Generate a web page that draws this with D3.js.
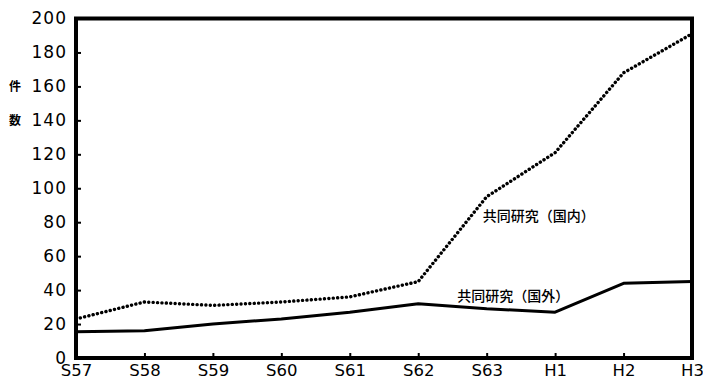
<!DOCTYPE html>
<html><head><meta charset="utf-8">
<script src="https://cdn.jsdelivr.net/npm/d3@7"></script>
<style>body{margin:0;background:#fff}svg{display:block}</style>
</head><body>
<script>
const categories = ["S57","S58","S59","S60","S61","S62","S63","H1","H2","H3"];
const domestic = [23, 33, 31, 33, 36, 45, 95, 121, 168, 191];
const overseas = [15.5, 16, 20, 23, 27, 32, 29, 27, 44, 45];
const yTicks = [0,20,40,60,80,100,120,140,160,180,200];
const seriesLabels = ["共同研究（国内）","共同研究（国外）"];
const yTitle = ["件","数"];

const W=703,H=379;
const m={left:76,right:11,top:18.5,bottom:21};
const svg=d3.select("body").append("svg").attr("width",W).attr("height",H);
const x=d3.scalePoint().domain(categories).range([m.left,W-m.right]);
const y=d3.scaleLinear().domain([0,200]).range([H-m.bottom,m.top]);

const yAx=svg.append("g").attr("transform",`translate(${m.left},0)`)
  .call(d3.axisLeft(y).tickValues(yTicks).tickSize(-5).tickPadding(8));
yAx.select(".domain").remove();
yAx.selectAll("line").attr("stroke","#000").attr("stroke-width",2);
yAx.selectAll("text").attr("font-family","DejaVu Sans").attr("font-size",17)
  .attr("letter-spacing","1px").attr("fill","#000").attr("dx","-1");

const xAx=svg.append("g").attr("transform",`translate(0,${H-m.bottom})`)
  .call(d3.axisBottom(x).tickSize(-5).tickPadding(4));
xAx.select(".domain").remove();
xAx.selectAll("line").attr("stroke","#000").attr("stroke-width",2);
xAx.selectAll("text").attr("font-family","DejaVu Sans").attr("font-size",16.5)
  .attr("fill","#000").attr("dy","0.85em");

svg.append("rect").attr("x",m.left).attr("y",m.top)
  .attr("width",W-m.right-m.left).attr("height",H-m.bottom-m.top)
  .attr("fill","none").attr("stroke","#000").attr("stroke-width",4);

const line=d3.line().x((d,i)=>x(categories[i])).y(d=>y(d));
svg.append("path").datum(domestic).attr("d",line).attr("fill","none")
  .attr("stroke","#000").attr("stroke-width",3.4).attr("stroke-linecap","round")
  .attr("stroke-dasharray","0.1 4.3");
svg.append("path").datum(overseas).attr("d",line).attr("fill","none")
  .attr("stroke","#000").attr("stroke-width",3).attr("stroke-linejoin","round");

const jp="'Noto Sans CJK JP'";
svg.append("text").attr("x",x("S63")-4).attr("y",y(81)).text(seriesLabels[0])
  .attr("font-family",jp).attr("font-size",14).attr("font-weight",500).attr("fill","#000");
svg.append("text").attr("x",x("S62")+39).attr("y",y(33.5)).text(seriesLabels[1])
  .attr("font-family",jp).attr("font-size",14).attr("font-weight",500).attr("fill","#000");

svg.append("text").attr("x",15).attr("y",y(160)+5).text(yTitle[0])
  .attr("font-family",jp).attr("font-size",12).attr("font-weight","bold").attr("text-anchor","middle");
svg.append("text").attr("x",15).attr("y",y(140)+5).text(yTitle[1])
  .attr("font-family",jp).attr("font-size",12).attr("font-weight","bold").attr("text-anchor","middle");
</script>
</body></html>
